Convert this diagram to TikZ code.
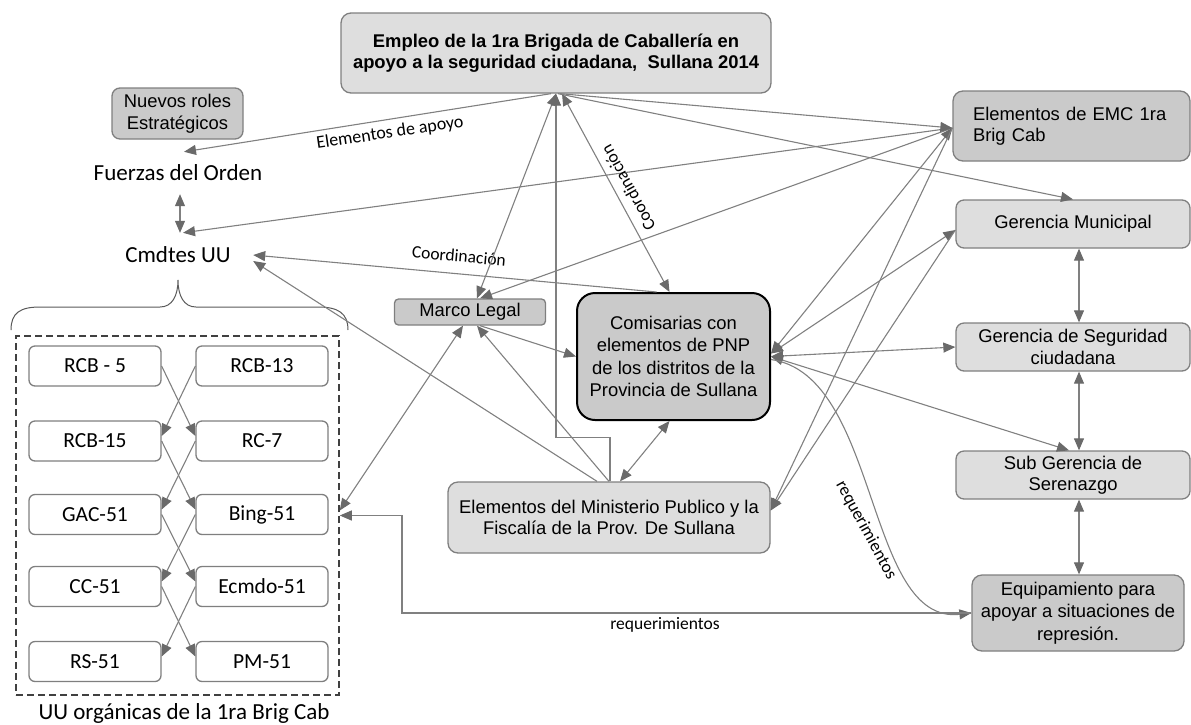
\documentclass[tikz,border=0pt]{standalone}
\usepackage{fontspec}
\setmainfont{Liberation Sans}
\newfontfamily\calfont{Carlito}
\usetikzlibrary{arrows.meta}
\definecolor{lightbox}{HTML}{DEDEDE}
\definecolor{darkbox}{HTML}{CACACA}
\definecolor{bord}{HTML}{7F7F7F}
\definecolor{conn}{HTML}{808080}
\definecolor{tipc}{HTML}{6A6A6A}
\begin{document}
\begin{tikzpicture}[x=1pt,y=-1pt,
  box/.style={draw=bord, line width=1.3pt, rounded corners=8pt, align=center, inner sep=0pt, font=\fontsize{18.4}{21.5}\selectfont},
  lbox/.style={box, fill=lightbox},
  dbox/.style={box, fill=darkbox},
  uubox/.style={draw=bord, line width=1.3pt, fill=white, rounded corners=6pt, minimum width=132pt, minimum height=40pt, inner sep=0pt, font=\calfont\fontsize{21.5}{24}\selectfont},
  plaintxt/.style={inner sep=0pt, font=\calfont\fontsize{23}{26}\selectfont},
  lab/.style={inner sep=0pt, font=\calfont\fontsize{17.5}{20}\selectfont},
  arr/.style={draw=conn, line width=1.1pt, -{Triangle[length=12pt,width=10pt,color=tipc]}},
  darr/.style={draw=conn, line width=1.1pt, {Triangle[length=12pt,width=10pt,color=tipc]}-{Triangle[length=12pt,width=10pt,color=tipc]}},
]
\useasboundingbox (0,0) rectangle (1191,724);

% nodes
\node[lbox, minimum width=430pt, minimum height=80pt, rounded corners=10pt, font=\bfseries\fontsize{18.4}{21}\selectfont] (title) at (556,53) {Empleo de la 1ra Brigada de Caballería en\\apoyo a la seguridad ciudadana,\ \ Sullana 2014};
\node[dbox, minimum width=131pt, minimum height=51pt] (nuevos) at (177.5,113.5) {Nuevos roles\\Estratégicos};
\node[plaintxt, minimum height=42pt] (fuerzas) at (178,173) {Fuerzas del Orden};
\node[plaintxt, minimum height=44pt, minimum width=150pt] (cmdtes) at (178,255) {Cmdtes UU};

\node[draw=black!75, dash pattern=on 7pt off 4pt, line width=1.5pt, minimum width=323pt, minimum height=359pt, inner sep=0pt] (uu) at (177.5,515.5) {};
\node[uubox] (rcb5) at (95,366) {RCB - 5};
\node[uubox] (rcb13) at (262,366) {RCB-13};
\node[uubox] (rcb15) at (95,441) {RCB-15};
\node[uubox] (rc7) at (262,441) {RC-7};
\node[uubox] (gac) at (95,514.5) {GAC-51};
\node[uubox] (bing) at (262,514.5) {Bing-51};
\node[uubox] (cc) at (95,586.5) {CC-51};
\node[uubox] (ecmdo) at (262,586.5) {Ecmdo-51};
\node[uubox] (rs) at (95,661.5) {RS-51};
\node[uubox] (pm) at (262,661.5) {PM-51};
\node[plaintxt] (uulab) at (184,713) {UU orgánicas de la 1ra Brig Cab};

\draw[black!65, line width=1pt] (11,330) .. controls (11,313) and (20,307) .. (40,307) -- (160,307) .. controls (172,307) and (178,296) .. (178,280) .. controls (178,296) and (184,307) .. (196,307) -- (318,307) .. controls (338,307) and (348,313) .. (348,330);

\node[dbox, minimum width=151pt, minimum height=26pt, rounded corners=4pt] (marco) at (470,312) {Marco Legal};
\node[dbox, draw=black, line width=2pt, rounded corners=18pt, minimum width=193pt, minimum height=127pt, font=\fontsize{18.4}{22.6}\selectfont] (comis) at (673.5,356.5) {Comisarias con\\elementos de PNP\\de los distritos de la\\Provincia de Sullana};
\node[lbox, minimum width=322pt, minimum height=71pt, rounded corners=10pt] (minis) at (609,517.5) {Elementos del Ministerio Publico y la\\Fiscalía de la Prov. De Sullana};
\node[dbox, minimum width=237pt, minimum height=70pt, text width=197pt, align=left, rounded corners=10pt] (emc) at (1071.5,126) {Elementos de EMC 1ra\\Brig Cab};
\node[lbox, minimum width=234pt, minimum height=48pt] (germun) at (1073,224) {Gerencia Municipal};
\node[lbox, minimum width=234pt, minimum height=48pt] (gerseg) at (1073,347) {Gerencia de Seguridad\\ciudadana};
\node[lbox, minimum width=234pt, minimum height=48pt] (subger) at (1073,475) {Sub Gerencia de\\Serenazgo};
\node[dbox, minimum width=212pt, minimum height=76pt, rounded corners=10pt, font=\fontsize{18.4}{22.5}\selectfont] (equip) at (1078,613) {Equipamiento para\\apoyar a situaciones de\\represión.};

% UU crossing arrows
\draw[arr] (rcb5.east) -- ([yshift=5pt]rc7.west);
\draw[arr] (rcb13.west) -- ([yshift=5pt]rcb15.east);
\draw[arr] (rcb15.east) -- ([yshift=5pt]bing.west);
\draw[arr] (rc7.west) -- ([yshift=5pt]gac.east);
\draw[arr] (gac.east) -- ([yshift=5pt]ecmdo.west);
\draw[arr] (bing.west) -- ([yshift=5pt]cc.east);
\draw[arr] (cc.east) -- ([yshift=5pt]pm.west);
\draw[arr] (ecmdo.west) -- ([yshift=5pt]rs.east);

% connectors
\draw[arr] ([xshift=-5pt]title.south) -- ([xshift=6pt]fuerzas.north);
\node[lab, rotate=8.5, font=\calfont\fontsize{18}{20}\selectfont] (lapoyo) at (390,133) {Elementos de apoyo};
\draw[darr] ([xshift=2pt]fuerzas.south) -- ([xshift=2pt]cmdtes.north);
\draw[arr] ([yshift=-2pt]emc.west) -- ([xshift=5pt]cmdtes.north);
\draw[arr] ([xshift=-17pt]comis.north) -- (cmdtes.east);
\node[lab, rotate=-5] (lcoord1) at (459,256) {Coordinación};
\draw[arr] ([xshift=-12pt]minis.north) -- ([yshift=-6pt]cmdtes.east);
\draw[darr] (title.south) -- ([xshift=7pt]marco.north);
\draw[arr] ([yshift=-2pt]emc.west) -- ([xshift=10pt]marco.north);
\draw[arr] ([xshift=10pt]marco.south) -- (comis.west);
\draw[arr] (minis.north) -- ([xshift=7pt]marco.south);
\draw[darr] ([yshift=5pt]uu.east) -- ([xshift=-7pt]marco.south);
\draw[darr] ([xshift=6pt]title.south) -- ([xshift=-4pt]comis.north);
\node[lab, rotate=119] (lcoord2) at (628,188) {Coordinación};
\draw[darr] ([xshift=11pt]minis.north) -- ([xshift=-4pt]comis.south);
\draw[arr] ([xshift=1pt]minis.north) -- ++(0,-44) -| (title.south);
\draw[arr] ([xshift=4pt]title.south) -- ([yshift=-2pt]emc.west);
\draw[arr] ([xshift=2pt]title.south) -- (germun.north);
\draw[darr] ([yshift=-2pt]emc.west) -- ([yshift=3pt]comis.east);
\draw[arr] ([yshift=-2pt]emc.west) -- ([yshift=7pt]minis.east);
\draw[darr] ([yshift=-6pt]germun.west) -- ([yshift=3pt]comis.east);
\draw[arr] ([yshift=-6pt]germun.west) -- ([yshift=7pt]minis.east);
\draw[darr] (comis.east) -- (gerseg.west);
\draw[darr] (comis.east) -- ([xshift=-4pt]subger.north);
\draw[arr] ([yshift=-3pt]comis.east) .. controls (880,375) and (865,625) .. (equip.west);
\node[lab, rotate=-61.5] (lreq1) at (866,530) {requerimientos};
\draw[arr] (equip.west) -- (402,613) |- (uu.east);
\node[lab] (lreq2) at (665,625) {requerimientos};
\draw[darr] ([xshift=6pt]germun.south) -- ([xshift=6pt]gerseg.north);
\draw[darr] ([xshift=6pt]gerseg.south) -- ([xshift=6pt]subger.north);
\draw[darr] ([xshift=6pt]subger.south) -- ([xshift=1pt]equip.north);
\end{tikzpicture}
\end{document}
